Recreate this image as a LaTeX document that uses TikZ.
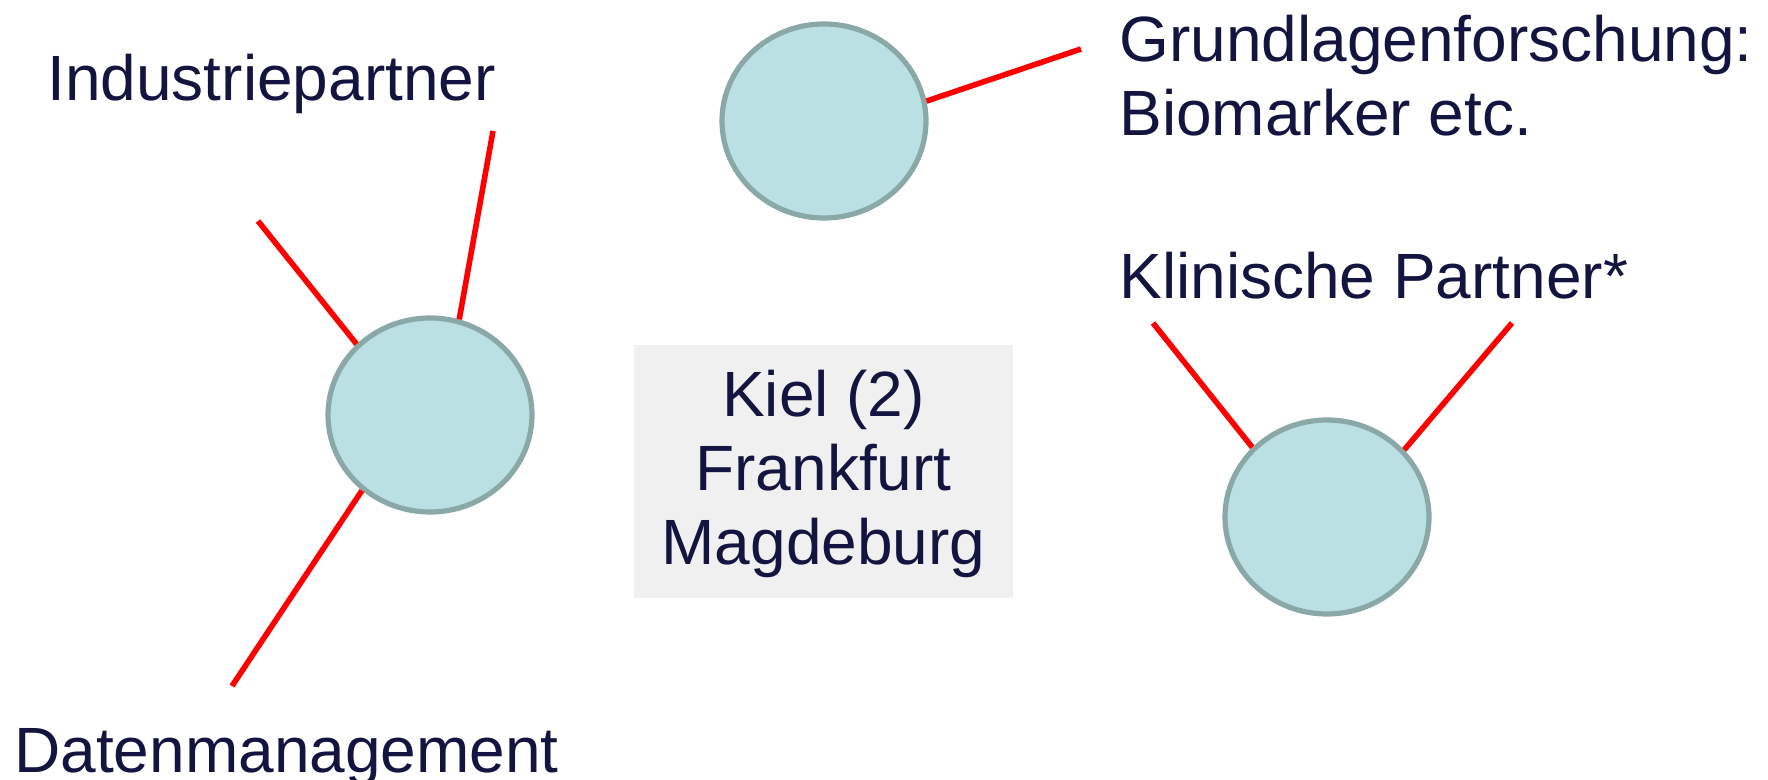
\documentclass[tikz,border=0pt]{standalone}
\usepackage{fontspec}
\setmainfont{Liberation Sans}
\usetikzlibrary{shapes.geometric}
\definecolor{txt}{RGB}{20,20,64}
\definecolor{cfill}{RGB}{186,224,227}
\definecolor{cline}{RGB}{138,168,168}
\definecolor{boxgray}{RGB}{240,240,240}
\definecolor{redline}{RGB}{255,0,0}
\tikzset{
  blob/.style={ellipse, draw=cline, fill=cfill, line width=2.6pt, inner sep=0pt, minimum width=102pt, minimum height=97pt},
  link/.style={draw=redline, line width=2.8pt},
  lbl/.style={text=txt, font=\fontsize{32}{37}\selectfont, inner sep=0pt},
  locbox/.style={fill=boxgray, inner sep=0pt, minimum width=189.5pt, minimum height=126.5pt}
}
\begin{document}
\begin{tikzpicture}[x=0.5pt, y=-0.5pt]
\useasboundingbox (0,0) rectangle (1768,780);
% circles
\node[blob] (c1) at (430,415) {};
\node[blob] (c2) at (824,121) {};
\node[blob] (c3) at (1327,517) {};
% box with locations
\node[locbox] (box) at (823.5,471.5) {};
\node[lbl, align=center, anchor=north] (loc) at (823.5,370) {Kiel (2)\\Frankfurt\\Magdeburg};
% labels
\node[lbl, anchor=base west] (ind) at (47,101) {Industriepartner};
\node[lbl, anchor=base west] (dat) at (14,772) {Datenmanagement};
\node[lbl, anchor=north west, align=left] (grund) at (1119,15) {Grundlagenforschung:\\Biomarker etc.};
\node[lbl, anchor=base west] (klin) at (1119,299) {Klinische Partner*};
% free ends
\coordinate (e1) at (258,221);
\coordinate (e2) at (493,131);
\coordinate (e3) at (232,686);
\coordinate (e4) at (1081,49);
\coordinate (e5) at (1153,323);
\coordinate (e6) at (1512,323);
% connectors
\draw[link] (e1) -- (c1.136);
\draw[link] (e2) -- (c1.73);
\draw[link] (e3) -- (c1.228);
\draw[link] (e4) -- (c2.11);
\draw[link] (e5) -- (c3.137);
\draw[link] (e6) -- (c3.41);
\end{tikzpicture}
\end{document}
